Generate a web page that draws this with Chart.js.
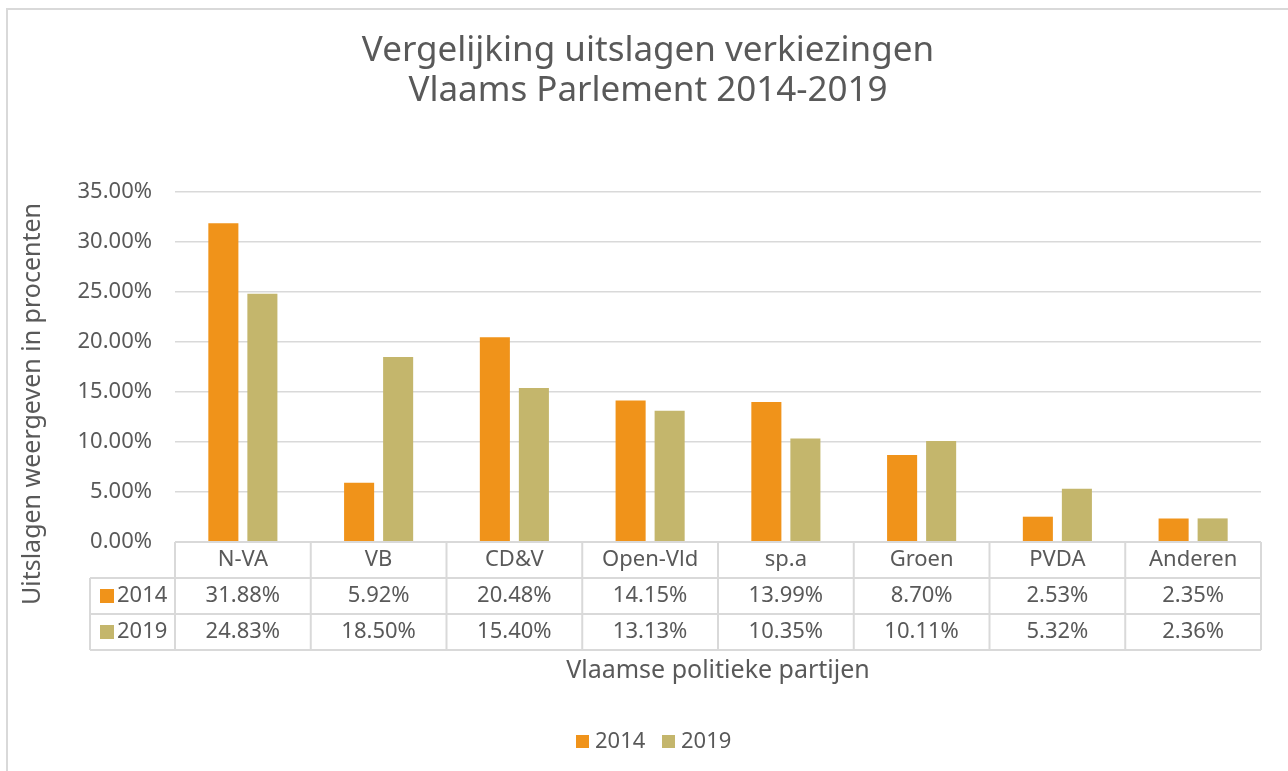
<!DOCTYPE html>
<html>
<head>
<meta charset="utf-8">
<script src="https://cdn.jsdelivr.net/npm/chart.js@4"></script>
<style>
  body { margin: 0; background: #fff; }
  canvas { display: block; }
</style>
</head>
<body>
<canvas id="chart" width="1288" height="771"></canvas>
<script>
const partijen = ['N-VA', 'VB', 'CD&V', 'Open-Vld', 'sp.a', 'Groen', 'PVDA', 'Anderen'];
const jaren = ['2014', '2019'];
const uitslag2014 = [31.88, 5.92, 20.48, 14.15, 13.99, 8.70, 2.53, 2.35];
const uitslag2019 = [24.83, 18.50, 15.40, 13.13, 10.35, 10.11, 5.32, 2.36];
const kleuren = ['#F0931A', '#C4B66C'];

const titelRegels = ['Vergelijking uitslagen verkiezingen', 'Vlaams Parlement 2014-2019'];
const yTitel = 'Uitslagen weergeven in procenten';
const xTitel = 'Vlaamse politieke partijen';

const tekstKleur = '#595959';
const lijnKleur = '#D9D9D9';
const font = '"Noto Sans", sans-serif';

// border, titles, data table and legend are drawn by hand
const excelLook = {
  id: 'excelLook',
  beforeDraw(chart) {
    const { ctx, width, height } = chart;
    ctx.save();
    ctx.fillStyle = '#fff';
    ctx.fillRect(0, 0, width, height);
    ctx.strokeStyle = lijnKleur;
    ctx.lineWidth = 2;
    ctx.beginPath();
    ctx.moveTo(7, height + 5);
    ctx.lineTo(7, 9);
    ctx.lineTo(width + 5, 9);
    ctx.stroke();
    ctx.restore();
  },
  afterDraw(chart) {
    const { ctx, chartArea } = chart;
    const x = chart.scales.x;
    const left = chartArea.left, right = chartArea.right, top = chartArea.bottom;
    const colW = (right - left) / partijen.length;
    const rowH = 36;
    const headL = 90;

    ctx.save();
    ctx.fillStyle = tekstKleur;
    ctx.textAlign = 'center';
    ctx.textBaseline = 'middle';

    // title
    ctx.font = '35px ' + font;
    ctx.fillText(titelRegels[0], 648, 51);
    ctx.fillText(titelRegels[1], 648, 91);

    // y title
    ctx.save();
    ctx.translate(33, 404);
    ctx.rotate(-Math.PI / 2);
    ctx.font = '25px ' + font;
    ctx.fillText(yTitel, 0, 0);
    ctx.restore();

    // table lines
    ctx.strokeStyle = lijnKleur;
    ctx.lineWidth = 2;
    ctx.beginPath();
    ctx.moveTo(left, top);
    ctx.lineTo(right, top);
    for (let r = 1; r <= 3; r++) {
      ctx.moveTo(headL, top + r * rowH);
      ctx.lineTo(right, top + r * rowH);
    }
    ctx.moveTo(headL, top + rowH);
    ctx.lineTo(headL, top + 3 * rowH);
    for (let i = 0; i <= partijen.length; i++) {
      const cx = left + i * colW;
      ctx.moveTo(cx, top);
      ctx.lineTo(cx, top + 3 * rowH);
    }
    ctx.stroke();

    // table text
    ctx.font = '22px ' + font;
    const reeksen = [uitslag2014, uitslag2019];
    partijen.forEach((p, i) => {
      const cx = x.getPixelForValue(i);
      ctx.fillText(p, cx, top + rowH / 2);
      reeksen.forEach((reeks, r) => {
        ctx.fillText(reeks[i].toFixed(2) + '%', cx, top + rowH * (r + 1.5));
      });
    });
    ctx.textAlign = 'left';
    jaren.forEach((j, r) => {
      const cy = top + rowH * (r + 1.5);
      ctx.fillStyle = kleuren[r];
      ctx.fillRect(100, cy - 7, 14, 14);
      ctx.fillStyle = tekstKleur;
      ctx.fillText(j, 117, cy);
    });

    // x title
    ctx.textAlign = 'center';
    ctx.font = '25px ' + font;
    ctx.fillText(xTitel, (left + right) / 2, 671);

    // legend
    ctx.font = '22px ' + font;
    ctx.textAlign = 'left';
    const legX = [576, 662];
    jaren.forEach((j, r) => {
      ctx.fillStyle = kleuren[r];
      ctx.fillRect(legX[r], 735, 13, 13);
      ctx.fillStyle = tekstKleur;
      ctx.fillText(j, legX[r] + 19, 742);
    });
    ctx.restore();
  }
};

new Chart(document.getElementById('chart'), {
  type: 'bar',
  data: {
    labels: partijen,
    datasets: [
      { label: jaren[0], data: uitslag2014, backgroundColor: kleuren[0] },
      { label: jaren[1], data: uitslag2019, backgroundColor: kleuren[1] }
    ]
  },
  options: {
    responsive: false,
    animation: false,
    devicePixelRatio: 1,
    categoryPercentage: 0.575,
    barPercentage: 0.77,
    layout: { padding: { left: 0, top: 192, right: 27, bottom: 229 } },
    plugins: {
      legend: { display: false },
      title: { display: false },
      tooltip: { enabled: false }
    },
    scales: {
      x: { display: false },
      y: {
        min: 0,
        max: 35,
        afterFit(scale) { scale.width = 175; },
        border: { display: false },
        grid: { color: lijnKleur, lineWidth: 1.5, drawTicks: false },
        ticks: {
          stepSize: 5,
          padding: 23,
          color: tekstKleur,
          font: { family: '"Noto Sans", sans-serif', size: 22 },
          callback: v => v.toFixed(2) + '%'
        }
      }
    }
  },
  plugins: [excelLook]
});
</script>
</body>
</html>
